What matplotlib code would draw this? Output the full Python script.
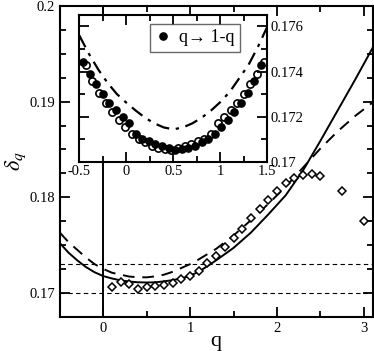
import numpy as np
import matplotlib
matplotlib.use("Agg")
import matplotlib.pyplot as plt

plt.rcParams.update({
    'font.family': ['Liberation Serif', 'DejaVu Serif'],
    'mathtext.fontset': 'stix',
    'font.size': 10.5,
    'xtick.direction': 'in',
    'ytick.direction': 'in',
})

# --- dati pannello principale ---
q_curve = [-0.5, -0.4, -0.3, -0.2, -0.1, 0.0, 0.1, 0.2, 0.3, 0.4, 0.5, 0.6,
           0.7, 0.8, 0.9, 1.0, 1.1, 1.3, 1.5, 1.7, 1.9, 2.1, 2.3, 2.5, 2.7,
           2.9, 3.1]
delta_solid = [0.1752, 0.1742, 0.1734, 0.1727, 0.17215, 0.17175, 0.1715,
               0.1713, 0.17118, 0.1711, 0.17108, 0.1711, 0.1712, 0.17133,
               0.1715, 0.1718, 0.1722, 0.1734, 0.1747, 0.1763, 0.1782,
               0.1802, 0.1828, 0.1859, 0.1891, 0.1923, 0.1956]
delta_dashed = [0.1763, 0.1753, 0.1745, 0.1737, 0.1730, 0.1725, 0.1721,
                0.1719, 0.1717, 0.17163, 0.17162, 0.17172, 0.1719, 0.1722,
                0.1726, 0.1730, 0.1735, 0.1746, 0.1760, 0.1776, 0.1793,
                0.1811, 0.1831, 0.1851, 0.1869, 0.1885, 0.1899]

q_diam = [0.1, 0.2, 0.3, 0.4, 0.5, 0.6, 0.7, 0.8, 0.9, 1.0, 1.1, 1.2, 1.3,
          1.4, 1.5, 1.6, 1.7, 1.8, 1.9, 2.0, 2.1, 2.2, 2.3, 2.4, 2.5,
          2.75, 3.0]
delta_diam = [0.1706, 0.17115, 0.1709, 0.17045, 0.1706, 0.1707, 0.17083,
              0.17104, 0.1714, 0.1718, 0.1723, 0.1731, 0.1739, 0.1748,
              0.1757, 0.1767, 0.1778, 0.1788, 0.1797, 0.1807, 0.1815,
              0.1820, 0.1823, 0.1824, 0.1822, 0.1806, 0.1775]

h_lines = [0.17, 0.173]

# --- dati inset ---
q_ins = [-0.46, -0.39, -0.32, -0.25, -0.18, -0.11, -0.04, 0.03, 0.10, 0.17,
         0.24, 0.31, 0.38, 0.45, 0.52, 0.59, 0.66, 0.73, 0.80, 0.87, 0.94,
         1.01, 1.08, 1.15, 1.22, 1.29, 1.36, 1.43]
delta_ins = [0.1744, 0.1739, 0.17345, 0.1730, 0.1726, 0.1723, 0.1720,
             0.1717, 0.17125, 0.1710, 0.1709, 0.1708, 0.1707, 0.1706,
             0.17052, 0.17055, 0.17062, 0.17072, 0.17087, 0.17100, 0.17122,
             0.17155, 0.17185, 0.17222, 0.1726, 0.17305, 0.1736, 0.1743]

q_dd = [-0.5, -0.4, -0.3, -0.2, -0.1, 0.0, 0.1, 0.2, 0.3, 0.4, 0.5,
        0.6, 0.7, 0.8, 0.9, 1.0, 1.1, 1.2, 1.3, 1.4, 1.5]
delta_dd = [0.1756, 0.1748, 0.1741, 0.1735, 0.1730, 0.17262, 0.17227,
            0.17195, 0.1717, 0.17152, 0.17144, 0.17152, 0.1717, 0.17195,
            0.17227, 0.17265, 0.1731, 0.1737, 0.1743, 0.1751, 0.1760]

fig = plt.figure(figsize=(3.74, 3.51), dpi=100)
ax = fig.add_axes([0.160, 0.0977, 0.836, 0.885])

for yv in h_lines:
    ax.axhline(yv, color='k', lw=0.8, ls=(0, (4, 3)))
ax.axvline(0, color='k', lw=1.4)
ax.plot(q_curve, delta_solid, color='k', lw=1.4)
ax.plot(q_curve, delta_dashed, color='k', lw=1.4, ls=(0, (6, 4)))
ax.plot(q_diam, delta_diam, ls='none', marker='D', ms=4.5, mfc='white',
        mec='k', mew=1.1)

ax.set_xlim(-0.5, 3.1)
ax.set_ylim(0.1675, 0.2)
ax.set_xticks([0, 1, 2, 3])
ax.set_xticks([-0.5, 0.5, 1.5, 2.5], minor=True)
ax.set_yticks([0.17, 0.18, 0.19, 0.2])
ax.set_yticklabels(['0.17', '0.18', '0.19', '0.2'])
ax.set_yticks(np.arange(0.1675, 0.2, 0.0025), minor=True)
ax.tick_params(which='both', top=True, right=True, width=1.3)
ax.tick_params(which='major', length=7)
ax.tick_params(which='minor', length=4)
for s in ax.spines.values():
    s.set_linewidth(1.5)
ax.set_xlabel('q', fontsize=16, labelpad=-2)
ax.set_ylabel(r'$\delta_q$', fontsize=16, labelpad=1)

# --- inset ---
axi = fig.add_axes([0.212, 0.539, 0.503, 0.418])
axi.plot(q_dd, delta_dd, color='k', lw=1.6, ls=(0, (6, 3, 1.5, 3)))
axi.plot(q_ins, delta_ins, ls='none', marker='o', ms=5.2, color='k',
         label='q\u2192 1-q')
q_mirror = [1 - v for v in q_ins]
axi.plot(q_mirror, delta_ins, ls='none', marker='o', ms=5.2, mfc='none',
         mec='k', mew=1.2)
axi.set_xlim(-0.5, 1.5)
axi.set_ylim(0.17, 0.1765)
axi.set_xticks([-0.5, 0, 0.5, 1, 1.5])
axi.set_xticklabels(['-0.5', '0', '0.5', '1', '1.5'])
axi.set_xticks(np.arange(-0.25, 1.5, 0.5), minor=True)
axi.set_yticks([0.17, 0.172, 0.174, 0.176])
axi.set_yticklabels(['0.17', '0.172', '0.174', '0.176'])
axi.set_yticks([0.171, 0.173, 0.175], minor=True)
axi.yaxis.tick_right()
axi.tick_params(which='both', top=True, left=True, right=True, width=1.3)
axi.tick_params(which='major', length=7, pad=2)
axi.tick_params(which='minor', length=4)
for s in axi.spines.values():
    s.set_linewidth(1.5)
leg = axi.legend(loc='upper right', bbox_to_anchor=(0.855, 0.94),
                 fontsize=13, frameon=True, fancybox=False, handlelength=0.8,
                 handletextpad=0.5, borderpad=0.3, borderaxespad=0)
leg.get_frame().set_edgecolor('#444444')
leg.get_frame().set_linewidth(1.0)

fig.savefig('out.png', dpi=100)
